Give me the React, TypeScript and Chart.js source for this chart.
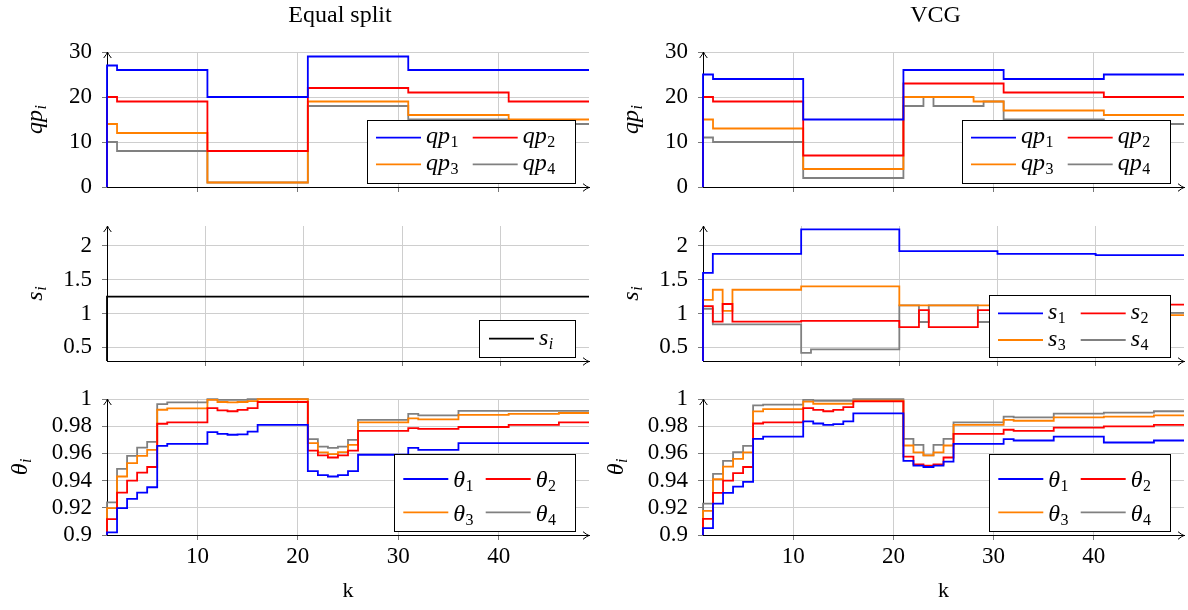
import React, { useEffect, useRef } from "react";
import { Chart, registerables } from "chart.js";

Chart.register(...registerables);

const SERIF = "'Liberation Serif', 'DejaVu Serif', serif";

// ---------- data ----------
const kSteps = [1, 2, 3, 4, 5, 6, 7, 8, 9, 10, 11, 12, 13, 14, 15, 16, 17, 18, 19, 20, 21, 22, 23, 24, 25, 26, 27, 28, 29, 30, 31, 32, 33, 34, 35, 36, 37, 38, 39, 40, 41, 42, 43, 44, 45, 46, 47, 48, 49];
const kShares = [0, 1, 2, 3, 4, 5, 6, 7, 8, 9, 10, 11, 12, 13, 14, 15, 16, 17, 18, 19, 20, 21, 22, 23, 24, 25, 26, 27, 28, 29, 30, 31, 32, 33, 34, 35, 36, 37, 38, 39, 40, 41, 42, 43, 44, 45, 46, 47, 48, 49];

const xTickValues = [10, 20, 30, 40];
const qpTickValues = [0, 10, 20, 30];
const sTickValues = [0.5, 1, 1.5, 2];
const thetaTickValues = [0.9, 0.92, 0.94, 0.96, 0.98, 1];

const startValue = 0;

// Equal split: qp_i
const eqQp1 = [27, 26, 26, 26, 26, 26, 26, 26, 26, 26, 20, 20, 20, 20, 20, 20, 20, 20, 20, 20, 29, 29, 29, 29, 29, 29, 29, 29, 29, 29, 26, 26, 26, 26, 26, 26, 26, 26, 26, 26, 26, 26, 26, 26, 26, 26, 26, 26, 26];
const eqQp2 = [20, 19, 19, 19, 19, 19, 19, 19, 19, 19, 8, 8, 8, 8, 8, 8, 8, 8, 8, 8, 22, 22, 22, 22, 22, 22, 22, 22, 22, 22, 21, 21, 21, 21, 21, 21, 21, 21, 21, 21, 19, 19, 19, 19, 19, 19, 19, 19, 19];
const eqQp3 = [14, 12, 12, 12, 12, 12, 12, 12, 12, 12, 1, 1, 1, 1, 1, 1, 1, 1, 1, 1, 19, 19, 19, 19, 19, 19, 19, 19, 19, 19, 16, 16, 16, 16, 16, 16, 16, 16, 16, 16, 15, 15, 15, 15, 15, 15, 15, 15, 15];
const eqQp4 = [10, 8, 8, 8, 8, 8, 8, 8, 8, 8, 1, 1, 1, 1, 1, 1, 1, 1, 1, 1, 18, 18, 18, 18, 18, 18, 18, 18, 18, 18, 15, 15, 15, 15, 15, 15, 15, 15, 15, 15, 14, 14, 14, 14, 14, 14, 14, 14, 14];

// VCG: qp_i
const vcgQp1 = [25, 24, 24, 24, 24, 24, 24, 24, 24, 24, 15, 15, 15, 15, 15, 15, 15, 15, 15, 15, 26, 26, 26, 26, 26, 26, 26, 26, 26, 26, 24, 24, 24, 24, 24, 24, 24, 24, 24, 24, 25, 25, 25, 25, 25, 25, 25, 25, 25];
const vcgQp2 = [20, 19, 19, 19, 19, 19, 19, 19, 19, 19, 7, 7, 7, 7, 7, 7, 7, 7, 7, 7, 23, 23, 23, 23, 23, 23, 23, 23, 23, 23, 21, 21, 21, 21, 21, 21, 21, 21, 21, 21, 20, 20, 20, 20, 20, 20, 20, 20, 20];
const vcgQp3 = [15, 13, 13, 13, 13, 13, 13, 13, 13, 13, 4, 4, 4, 4, 4, 4, 4, 4, 4, 4, 20, 20, 20, 20, 20, 20, 20, 19, 19, 19, 17, 17, 17, 17, 17, 17, 17, 17, 17, 17, 16, 16, 16, 16, 16, 16, 16, 16, 16];
const vcgQp4 = [11, 10, 10, 10, 10, 10, 10, 10, 10, 10, 2, 2, 2, 2, 2, 2, 2, 2, 2, 2, 18, 18, 20, 18, 18, 18, 18, 18, 19, 19, 15, 15, 15, 15, 15, 15, 15, 15, 15, 15, 14, 14, 14, 14, 14, 14, 14, 14, 14];

// Equal split: s_i
const eqS = [1.25, 1.25, 1.25, 1.25, 1.25, 1.25, 1.25, 1.25, 1.25, 1.25, 1.25, 1.25, 1.25, 1.25, 1.25, 1.25, 1.25, 1.25, 1.25, 1.25, 1.25, 1.25, 1.25, 1.25, 1.25, 1.25, 1.25, 1.25, 1.25, 1.25, 1.25, 1.25, 1.25, 1.25, 1.25, 1.25, 1.25, 1.25, 1.25, 1.25, 1.25, 1.25, 1.25, 1.25, 1.25, 1.25, 1.25, 1.25, 1.25, 1.25];

// VCG: s_i
const vcgS1 = [1.6, 1.88, 1.88, 1.88, 1.88, 1.88, 1.88, 1.88, 1.88, 1.88, 2.24, 2.24, 2.24, 2.24, 2.24, 2.24, 2.24, 2.24, 2.24, 2.24, 1.92, 1.92, 1.92, 1.92, 1.92, 1.92, 1.92, 1.92, 1.92, 1.92, 1.88, 1.88, 1.88, 1.88, 1.88, 1.88, 1.88, 1.88, 1.88, 1.88, 1.86, 1.86, 1.86, 1.86, 1.86, 1.86, 1.86, 1.86, 1.86, 1.86];
const vcgS2 = [1.11, 0.88, 1.14, 0.88, 0.88, 0.88, 0.88, 0.88, 0.88, 0.88, 0.89, 0.89, 0.89, 0.89, 0.89, 0.89, 0.89, 0.89, 0.89, 0.89, 0.8, 0.8, 1.05, 0.8, 0.8, 0.8, 0.8, 0.8, 1.05, 1.05, 1.13, 1.13, 1.13, 1.13, 1.13, 1.13, 1.13, 1.13, 1.13, 1.13, 1.13, 1.13, 1.13, 1.13, 1.13, 1.13, 1.13, 1.13, 1.13, 1.13];
const vcgS3 = [1.2, 1.35, 1.04, 1.35, 1.35, 1.35, 1.35, 1.35, 1.35, 1.35, 1.4, 1.4, 1.4, 1.4, 1.4, 1.4, 1.4, 1.4, 1.4, 1.4, 1.12, 1.12, 1.12, 1.12, 1.12, 1.12, 1.12, 1.12, 1.12, 1.12, 0.975, 0.975, 0.975, 0.975, 0.975, 0.975, 0.975, 0.975, 0.975, 0.975, 0.975, 0.975, 0.975, 0.975, 0.975, 0.975, 0.975, 0.975, 0.975, 0.975];
const vcgS4 = [1.07, 0.84, 0.84, 0.84, 0.84, 0.84, 0.84, 0.84, 0.84, 0.84, 0.42, 0.47, 0.47, 0.47, 0.47, 0.47, 0.47, 0.47, 0.47, 0.47, 1.12, 1.12, 0.875, 1.12, 1.12, 1.12, 1.12, 1.12, 0.875, 0.875, 1.01, 1.01, 1.01, 1.01, 1.01, 1.01, 1.01, 1.01, 1.01, 1.01, 1.01, 1.01, 1.01, 1.01, 1.01, 1.01, 1.01, 1.01, 1.01, 1.01];

// Equal split: theta_i
const eqT1 = [0.902, 0.9197, 0.9265, 0.9312, 0.9351, 0.9655, 0.967, 0.967, 0.967, 0.967, 0.9757, 0.9744, 0.9737, 0.974, 0.976, 0.981, 0.981, 0.981, 0.981, 0.981, 0.947, 0.944, 0.943, 0.944, 0.947, 0.959, 0.959, 0.959, 0.959, 0.959, 0.964, 0.9626, 0.9626, 0.9626, 0.9626, 0.9676, 0.9676, 0.9676, 0.9676, 0.9676, 0.9676, 0.9676, 0.9676, 0.9676, 0.9676, 0.9676, 0.9676, 0.9676, 0.9676];
const eqT2 = [0.9116, 0.9312, 0.94, 0.9459, 0.95, 0.9818, 0.9828, 0.9828, 0.9828, 0.9828, 0.9933, 0.9916, 0.991, 0.992, 0.9933, 0.9978, 0.9978, 0.9978, 0.9978, 0.9978, 0.962, 0.9585, 0.957, 0.9585, 0.962, 0.9766, 0.9766, 0.9766, 0.9766, 0.9766, 0.9786, 0.978, 0.978, 0.978, 0.978, 0.9794, 0.9794, 0.9794, 0.9794, 0.9794, 0.981, 0.981, 0.981, 0.981, 0.981, 0.9828, 0.9828, 0.9828, 0.9828];
const eqT3 = [0.9197, 0.943, 0.9528, 0.9582, 0.9626, 0.9921, 0.9931, 0.9931, 0.9931, 0.9931, 0.9993, 0.9978, 0.9975, 0.9978, 0.9985, 0.9998, 0.9998, 0.9998, 0.9998, 0.9998, 0.9676, 0.9607, 0.9595, 0.961, 0.9663, 0.9828, 0.9828, 0.9828, 0.9828, 0.9828, 0.9857, 0.985, 0.985, 0.985, 0.985, 0.9884, 0.9884, 0.9884, 0.9884, 0.9884, 0.989, 0.989, 0.989, 0.989, 0.989, 0.9897, 0.9897, 0.9897, 0.9897];
const eqT4 = [0.924, 0.9486, 0.9582, 0.9643, 0.9685, 0.9963, 0.9975, 0.9975, 0.9975, 0.9975, 0.9998, 0.9994, 0.9993, 0.9994, 0.9998, 0.9999, 0.9999, 0.9999, 0.9999, 0.9999, 0.9705, 0.965, 0.964, 0.965, 0.97, 0.9847, 0.9847, 0.9847, 0.9847, 0.9847, 0.989, 0.988, 0.988, 0.988, 0.988, 0.9912, 0.9912, 0.9912, 0.9912, 0.9912, 0.9912, 0.9912, 0.9912, 0.9912, 0.9912, 0.9912, 0.9912, 0.9912, 0.9912];

// VCG: theta_i
const vcgT1 = [0.905, 0.923, 0.931, 0.9356, 0.939, 0.9707, 0.9724, 0.9724, 0.9724, 0.9724, 0.9835, 0.982, 0.981, 0.9815, 0.9835, 0.9894, 0.9894, 0.9894, 0.9894, 0.9894, 0.9545, 0.951, 0.95, 0.951, 0.954, 0.967, 0.967, 0.967, 0.967, 0.967, 0.9705, 0.9695, 0.9695, 0.9695, 0.9695, 0.9724, 0.9724, 0.9724, 0.9724, 0.9724, 0.968, 0.968, 0.968, 0.968, 0.968, 0.9695, 0.9695, 0.9695, 0.9695];
const vcgT2 = [0.9118, 0.931, 0.94, 0.9455, 0.95, 0.982, 0.9828, 0.9828, 0.9828, 0.9828, 0.9933, 0.992, 0.991, 0.992, 0.994, 0.9982, 0.9982, 0.9982, 0.9982, 0.9982, 0.9577, 0.952, 0.951, 0.952, 0.957, 0.9744, 0.9744, 0.9744, 0.9744, 0.9744, 0.9774, 0.9766, 0.9766, 0.9766, 0.9766, 0.979, 0.979, 0.979, 0.979, 0.979, 0.9798, 0.9798, 0.9798, 0.9798, 0.9798, 0.981, 0.981, 0.981, 0.981];
const vcgT3 = [0.9177, 0.941, 0.9503, 0.956, 0.9607, 0.9909, 0.9926, 0.9926, 0.9926, 0.9926, 0.998, 0.9965, 0.9965, 0.9965, 0.9965, 0.9987, 0.9987, 0.9987, 0.9987, 0.9987, 0.9658, 0.9607, 0.9585, 0.9607, 0.9658, 0.981, 0.981, 0.981, 0.981, 0.981, 0.9847, 0.984, 0.984, 0.984, 0.984, 0.9865, 0.9865, 0.9865, 0.9865, 0.9865, 0.987, 0.987, 0.987, 0.987, 0.987, 0.988, 0.988, 0.988, 0.988];
const vcgT4 = [0.923, 0.945, 0.9545, 0.961, 0.9656, 0.9953, 0.9958, 0.9958, 0.9958, 0.9958, 0.9993, 0.9987, 0.9987, 0.9987, 0.9987, 0.9999, 0.9999, 0.9999, 0.9999, 0.9999, 0.9707, 0.9663, 0.9585, 0.9663, 0.9707, 0.9828, 0.9828, 0.9828, 0.9828, 0.9828, 0.987, 0.9865, 0.9865, 0.9865, 0.9865, 0.9892, 0.9892, 0.9892, 0.9892, 0.9892, 0.99, 0.99, 0.99, 0.99, 0.99, 0.991, 0.991, 0.991, 0.991];

const BLUE = "#0000ff";
const RED = "#ff0000";
const ORANGE = "#ff8000";
const GRAY = "#808080";
const BLACK = "#000000";
const seriesColors = [BLUE, RED, ORANGE, GRAY];
const seriesSubs = ["1", "2", "3", "4"];

// ---------- drawing helpers ----------
function drawMath(ctx: CanvasRenderingContext2D, base: string, sub: string, x: number, y: number, size: number, measureOnly = false): number {
  ctx.font = `italic ${size}px ${SERIF}`;
  const wb = ctx.measureText(base).width;
  const subSize = Math.round(size * 0.68);
  const subItalic = /[a-z]/.test(sub);
  const subFont = `${subItalic ? "italic " : ""}${subSize}px ${SERIF}`;
  ctx.font = subFont;
  const ws = ctx.measureText(sub).width;
  if (!measureOnly) {
    ctx.textAlign = "left";
    ctx.textBaseline = "alphabetic";
    ctx.font = `italic ${size}px ${SERIF}`;
    ctx.fillText(base, x, y);
    ctx.font = subFont;
    ctx.fillText(sub, x + wb + 0.5, y + size * 0.16);
  }
  return wb + 0.5 + ws;
}

function arrowHead(ctx: CanvasRenderingContext2D, x: number, y: number, dir: "right" | "up") {
  ctx.save();
  ctx.translate(x, y);
  if (dir === "up") ctx.rotate(-Math.PI / 2);
  ctx.beginPath();
  ctx.moveTo(-6, -3.8);
  ctx.quadraticCurveTo(-2, -0.6, 0, 0);
  ctx.quadraticCurveTo(-2, 0.6, -6, 3.8);
  ctx.strokeStyle = "#000";
  ctx.lineWidth = 1;
  ctx.stroke();
  ctx.restore();
}

const decorPlugin = {
  id: "panelDecor",
  afterDatasetsDraw(chart: any) {
    const o = chart.options.plugins.panelDecor;
    if (!o) return;
    const ctx: CanvasRenderingContext2D = chart.ctx;
    const a = chart.chartArea;
    ctx.save();
    // axis arrows
    arrowHead(ctx, a.right, Math.round(a.bottom) + 0.5, "right");
    arrowHead(ctx, Math.round(a.left) + 0.5, a.top, "up");

    // legend
    const L = o.legend;
    const bx = Math.round(a.right - 14.5 - L.width);
    const by = Math.round(a.bottom - 4.5 - L.height);
    ctx.fillStyle = "#ffffff";
    ctx.fillRect(bx, by, L.width, L.height);
    ctx.strokeStyle = "#000";
    ctx.lineWidth = 1;
    ctx.strokeRect(bx + 0.5, by + 0.5, Math.round(L.width), Math.round(L.height));
    L.entries.forEach((e: any, i: number) => {
      const col = i % L.cols.length;
      const row = Math.floor(i / L.cols.length);
      const lx = bx + L.cols[col];
      const ly = by + L.rows[row];
      ctx.strokeStyle = e.color;
      ctx.lineWidth = 1.8;
      ctx.beginPath();
      ctx.moveTo(lx, ly);
      ctx.lineTo(lx + 45, ly);
      ctx.stroke();
      ctx.fillStyle = "#000";
      drawMath(ctx, e.base, e.sub, lx + 50, ly + L.baseline, 24);
    });

    // title
    if (o.title) {
      ctx.fillStyle = "#000";
      ctx.font = `24px ${SERIF}`;
      ctx.textAlign = "center";
      ctx.textBaseline = "alphabetic";
      ctx.fillText(o.title, (a.left + a.right) / 2 - 8, 22);
    }
    // x label
    if (o.xLabel) {
      ctx.fillStyle = "#000";
      ctx.font = `22px ${SERIF}`;
      ctx.textAlign = "center";
      ctx.textBaseline = "alphabetic";
      ctx.fillText(o.xLabel, (a.left + a.right) / 2, a.bottom + 62);
    }
    // y label (rotated)
    if (o.yLabel) {
      const w = drawMath(ctx, o.yLabel.base, o.yLabel.sub, 0, 0, 24, true);
      ctx.save();
      ctx.translate(a.left - o.yLabel.offset, (a.top + a.bottom) / 2);
      ctx.rotate(-Math.PI / 2);
      ctx.fillStyle = "#000";
      drawMath(ctx, o.yLabel.base, o.yLabel.sub, -w / 2, 0, 24);
      ctx.restore();
    }
    ctx.restore();
  },
};

type PanelCfg = {
  key: string;
  x: number; y: number; w: number; h: number;
  yWidth: number; padTop: number; padRight: number; xHeight: number;
  xs: number[]; series: { values: number[]; color: string }[];
  xMin: number; xMax: number; yMin: number; yMax: number; yTicks: number[];
  showXTicks: boolean;
  legend: any; title?: string; xLabel?: string; yLabel: any;
};

function buildChart(canvas: HTMLCanvasElement, c: PanelCfg) {
  const grid = {
    color: "rgb(206,206,206)",
    lineWidth: 1,
    tickLength: 5,
    tickColor: "rgb(120,120,120)",
  };
  return new Chart(canvas, {
    type: "line",
    data: {
      datasets: c.series.map((s) => ({
        data: [{ x: c.xs[0], y: startValue }].concat(c.xs.map((k, i) => ({ x: k, y: s.values[i] }))),
        borderColor: s.color,
        borderWidth: 1.8,
        pointRadius: 0,
        fill: false,
        stepped: "before" as const,
        clip: { left: 1, top: 3, right: 3, bottom: 0 },
      })),
    },
    options: {
      animation: false,
      responsive: false,
      events: [],
      layout: { padding: { top: c.padTop, right: c.padRight, left: 0, bottom: 0 } },
      plugins: {
        legend: { display: false },
        tooltip: { enabled: false },
        panelDecor: { legend: c.legend, title: c.title, xLabel: c.xLabel, yLabel: c.yLabel },
      } as any,
      scales: {
        x: {
          type: "linear",
          min: c.xMin,
          max: c.xMax,
          grid,
          border: { display: true, color: "#000", width: 1 },
          ticks: {
            display: c.showXTicks,
            autoSkip: false,
            maxRotation: 0,
            padding: 3,
            color: "#000",
            font: { family: SERIF, size: 23 },
            callback: (v: any) => String(v),
          },
          afterBuildTicks: (s: any) => {
            s.ticks = xTickValues.map((v) => ({ value: v }));
          },
          afterFit: (s: any) => {
            s.height = c.xHeight;
            s.paddingLeft = 0;
            s.paddingRight = 0;
          },
        },
        y: {
          type: "linear",
          min: c.yMin,
          max: c.yMax,
          grid,
          border: { display: true, color: "#000", width: 1 },
          ticks: {
            autoSkip: false,
            padding: 10,
            color: "#000",
            font: { family: SERIF, size: 23 },
            callback: (v: any) => String(v),
          },
          afterBuildTicks: (s: any) => {
            s.ticks = c.yTicks.map((v) => ({ value: v }));
          },
          afterFit: (s: any) => {
            s.width = c.yWidth;
            s.paddingTop = 0;
            s.paddingBottom = 0;
          },
        },
      },
    },
    plugins: [decorPlugin],
  } as any);
}

function Panel({ c }: { c: PanelCfg }) {
  const ref = useRef<HTMLCanvasElement>(null);
  useEffect(() => {
    if (!ref.current) return;
    const chart = buildChart(ref.current, c);
    return () => chart.destroy();
  }, []);
  return (
    <canvas
      ref={ref}
      width={c.w}
      height={c.h}
      style={{ position: "absolute", left: c.x, top: c.y, width: c.w, height: c.h }}
    />
  );
}

// ---------- layout ----------
const columns = [
  { x: 0, w: 594, yWidth: 107, padRight: 5, title: "Equal split" },
  { x: 596, w: 592, yWidth: 107, padRight: 4, title: "VCG" },
];
const rows = [
  { y: 0, h: 205, padTop: 52, xHeight: 18 },
  { y: 205, h: 175, padTop: 21, xHeight: 19 },
  { y: 380, h: 230, padTop: 19, xHeight: 75 },
];

const legendQp = { width: 208, height: 63, rows: [17.7, 44.3], cols: [9, 105.7], baseline: 5.6 };
const legendS4 = { width: 181, height: 62, rows: [18.3, 45], cols: [9, 91.7], baseline: 6 };
const legendS1 = { width: 96, height: 37, rows: [18.7], cols: [10], baseline: 6 };
const legendTheta = { width: 181, height: 77, rows: [25, 58.3], cols: [9.3, 91.7], baseline: 8.4 };

function entries(base: string) {
  return seriesColors.map((color, i) => ({ base, sub: seriesSubs[i], color }));
}
function series(list: number[][]) {
  return list.map((values, i) => ({ values, color: seriesColors[i] }));
}

function makePanels(): PanelCfg[] {
  const out: PanelCfg[] = [];
  const specs = [
    [
      { xs: kSteps, xMin: 1, series: series([eqQp1, eqQp2, eqQp3, eqQp4]), yMin: 0, yMax: 30, yTicks: qpTickValues, legend: { ...legendQp, entries: entries("qp") }, yLabel: { base: "qp", sub: "i", offset: 65 } },
      { xs: kSteps, xMin: 1, series: series([vcgQp1, vcgQp2, vcgQp3, vcgQp4]), yMin: 0, yMax: 30, yTicks: qpTickValues, legend: { ...legendQp, entries: entries("qp") }, yLabel: { base: "qp", sub: "i", offset: 65 } },
    ],
    [
      { xs: kShares, xMin: 0, series: [{ values: eqS, color: BLACK }], yMin: 0.3, yMax: 2.29, yTicks: sTickValues, legend: { ...legendS1, entries: [{ base: "s", sub: "i", color: BLACK }] }, yLabel: { base: "s", sub: "i", offset: 65 } },
      { xs: kShares, xMin: 0, series: series([vcgS1, vcgS2, vcgS3, vcgS4]), yMin: 0.3, yMax: 2.29, yTicks: sTickValues, legend: { ...legendS4, entries: entries("s") }, yLabel: { base: "s", sub: "i", offset: 65 } },
    ],
    [
      { xs: kSteps, xMin: 1, series: series([eqT1, eqT2, eqT3, eqT4]), yMin: 0.9, yMax: 1, yTicks: thetaTickValues, legend: { ...legendTheta, entries: entries("θ") }, yLabel: { base: "θ", sub: "i", offset: 80 } },
      { xs: kSteps, xMin: 1, series: series([vcgT1, vcgT2, vcgT3, vcgT4]), yMin: 0.9, yMax: 1, yTicks: thetaTickValues, legend: { ...legendTheta, entries: entries("θ") }, yLabel: { base: "θ", sub: "i", offset: 80 } },
    ],
  ];
  rows.forEach((r, ri) => {
    columns.forEach((col, ci) => {
      const s: any = specs[ri][ci];
      out.push({
        key: `${ri}-${ci}`,
        x: col.x, y: r.y, w: col.w, h: r.h,
        yWidth: col.yWidth, padTop: r.padTop, padRight: col.padRight, xHeight: r.xHeight,
        xs: s.xs, series: s.series, xMin: s.xMin, xMax: 49,
        yMin: s.yMin, yMax: s.yMax, yTicks: s.yTicks,
        showXTicks: ri === 2,
        legend: s.legend,
        title: ri === 0 ? col.title : undefined,
        xLabel: ri === 2 ? "k" : undefined,
        yLabel: s.yLabel,
      });
    });
  });
  return out;
}

const panels = makePanels();

export default function App() {
  return (
    <div style={{ position: "absolute", left: 0, top: 0, width: 1188, height: 610, background: "#fff", overflow: "hidden" }}>
      {panels.map((p) => (
        <Panel key={p.key} c={p} />
      ))}
    </div>
  );
}
